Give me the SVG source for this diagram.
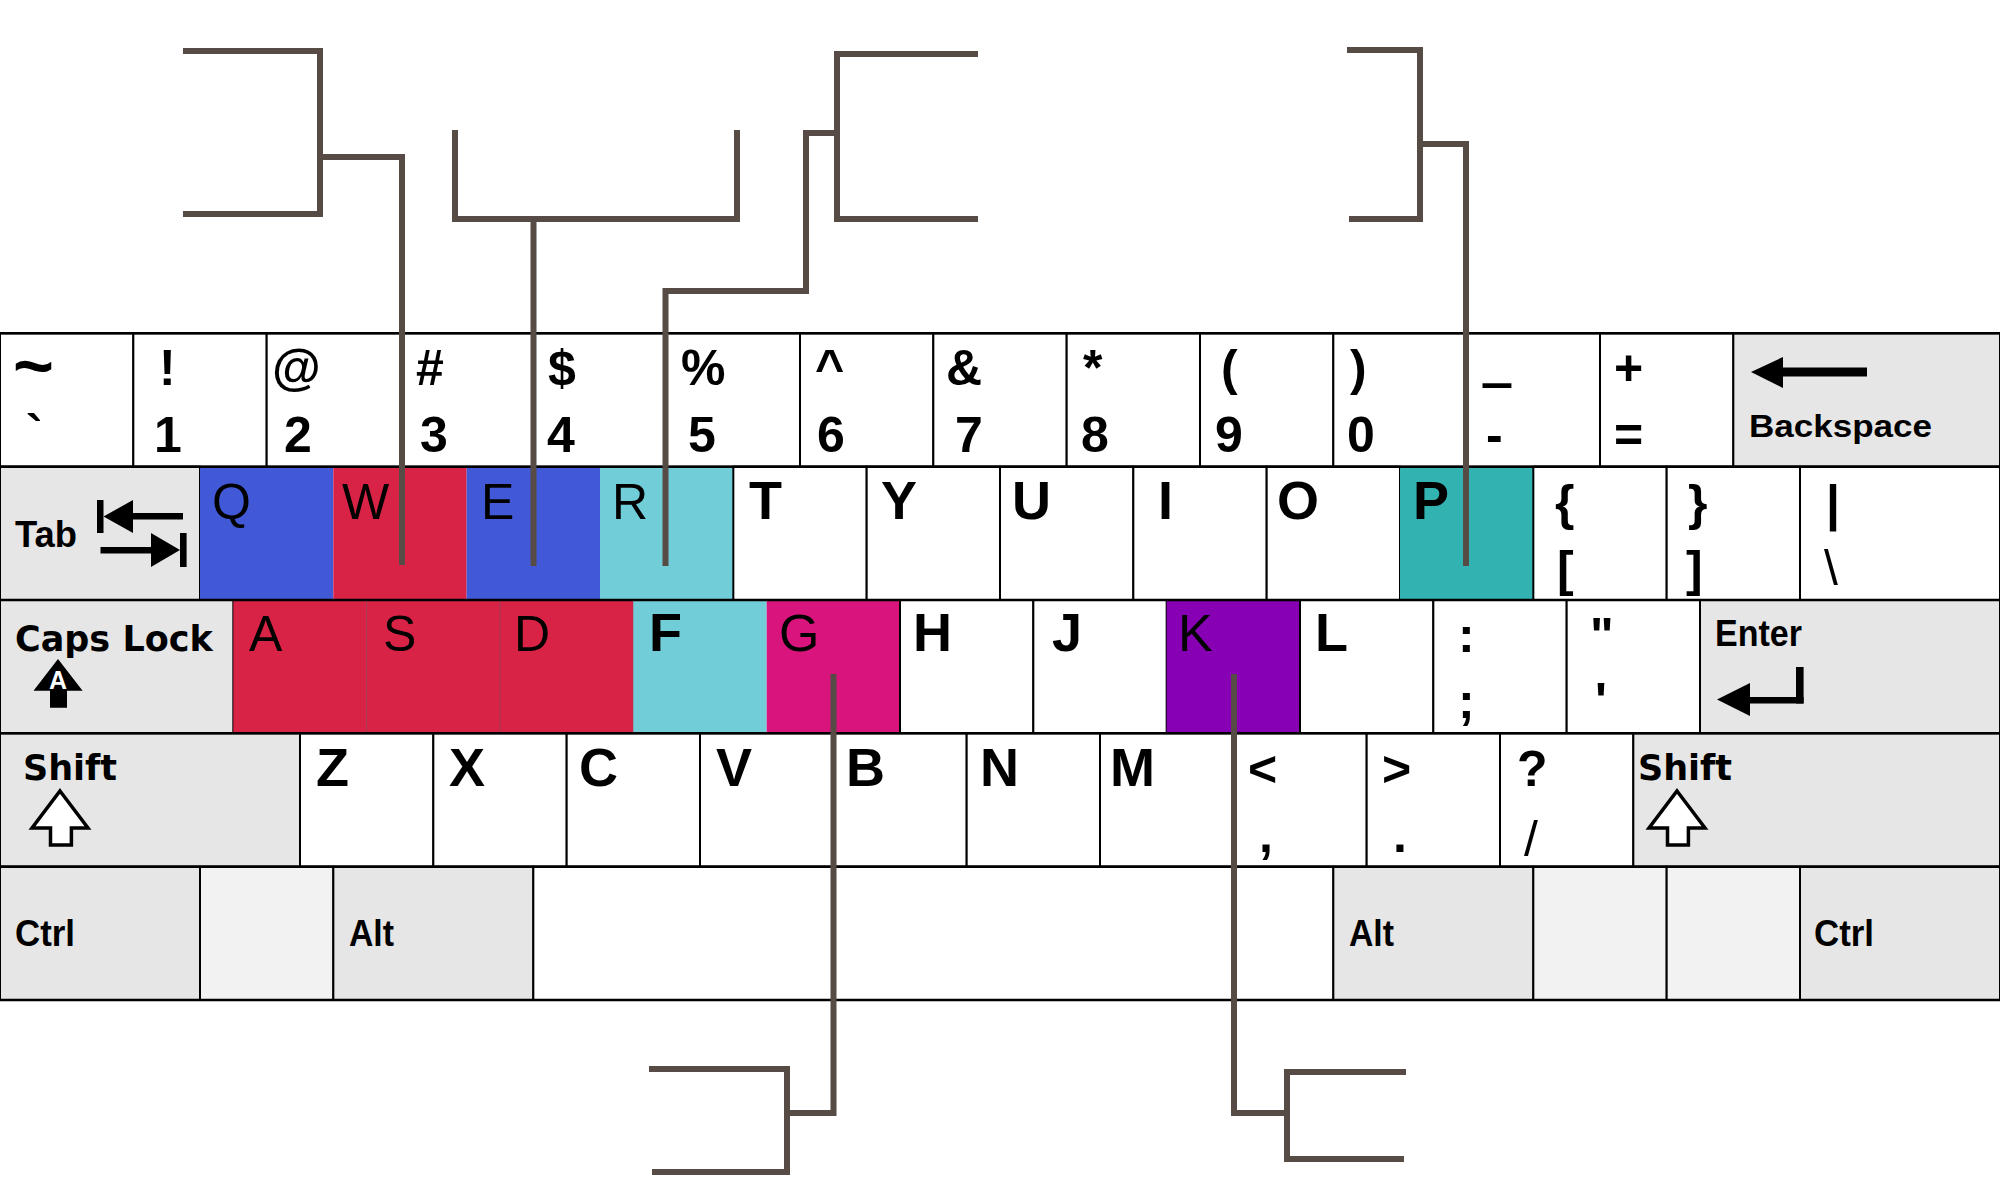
<svg xmlns="http://www.w3.org/2000/svg" width="2000" height="1200" viewBox="0 0 2000 1200">
<style>
.k{stroke:#000;stroke-width:2}
.w{fill:#fff}.g{fill:#e6e6e6}.l{fill:#f2f2f2}
.blue{fill:#4159d7}.red{fill:#d82347}.cyan{fill:#71ced9}.teal{fill:#32b3b2}.mag{fill:#d9157d}.pur{fill:#8700b3}
text{font-family:"Liberation Sans",Arial,sans-serif;font-weight:bold;fill:#000}
.s{font-size:50px}
.b{font-size:54px}
.r{font-size:50px;font-weight:normal}
.m{font-size:36px}
.d{font-family:"DejaVu Sans",sans-serif;font-weight:bold}
.cn{fill:none;stroke:#564b45;stroke-width:6;stroke-linejoin:miter}
</style>
<rect width="2000" height="1200" fill="#fff"/>
<g id="keyboard">
<!-- row 0 -->
<g id="key-tilde"><rect class="k w" x="0" y="333.33" width="133.33" height="133.33"/><text x="13" y="390" style="font-size:70px">~</text><text class="s" x="26" y="450">`</text></g>
<g id="key-1"><rect class="k w" x="133.33" y="333.33" width="133.33" height="133.33"/><text class="s" x="159" y="385">!</text><text class="s" x="154" y="452">1</text></g>
<g id="key-2"><rect class="k w" x="266.67" y="333.33" width="133.33" height="133.33"/><text class="s" x="272" y="385">@</text><text class="s" x="284" y="452">2</text></g>
<g id="key-3"><rect class="k w" x="400" y="333.33" width="133.33" height="133.33"/><text class="s" x="416" y="385">#</text><text class="s" x="420" y="452">3</text></g>
<g id="key-4"><rect class="k w" x="533.33" y="333.33" width="133.33" height="133.33"/><text class="s" x="548" y="385">$</text><text class="s" x="547" y="452">4</text></g>
<g id="key-5"><rect class="k w" x="666.67" y="333.33" width="133.33" height="133.33"/><text class="s" x="681" y="385">%</text><text class="s" x="688" y="452">5</text></g>
<g id="key-6"><rect class="k w" x="800" y="333.33" width="133.33" height="133.33"/><text class="s" x="815" y="385">^</text><text class="s" x="817" y="452">6</text></g>
<g id="key-7"><rect class="k w" x="933.33" y="333.33" width="133.33" height="133.33"/><text class="s" x="946" y="385">&amp;</text><text class="s" x="955" y="452">7</text></g>
<g id="key-8"><rect class="k w" x="1066.67" y="333.33" width="133.33" height="133.33"/><text class="s" x="1083" y="385">*</text><text class="s" x="1081" y="452">8</text></g>
<g id="key-9"><rect class="k w" x="1200" y="333.33" width="133.33" height="133.33"/><text class="s" x="1221" y="385">(</text><text class="s" x="1215" y="452">9</text></g>
<g id="key-0"><rect class="k w" x="1333.33" y="333.33" width="133.33" height="133.33"/><text class="s" x="1350" y="385">)</text><text class="s" x="1347" y="452">0</text></g>
<g id="key-minus"><rect class="k w" x="1466.67" y="333.33" width="133.33" height="133.33"/><text x="1483" y="373" style="font-size:125px" textLength="28" lengthAdjust="spacingAndGlyphs">_</text><text class="s" x="1486" y="452">-</text></g>
<g id="key-equal"><rect class="k w" x="1600" y="333.33" width="133.33" height="133.33"/><text class="s" x="1614" y="385">+</text><text class="s" x="1614" y="452">=</text></g>
<g id="key-backspace"><rect class="k g" x="1733.33" y="333.33" width="266.67" height="133.33"/><polygon points="1751,372 1783,357 1783,388"/><rect x="1782" y="367.5" width="85" height="9"/><text x="1749" y="437" style="font-size:31px" textLength="183" lengthAdjust="spacingAndGlyphs">Backspace</text></g>
<!-- row 1 -->
<g id="key-tab"><rect class="k g" x="0" y="466.67" width="200" height="133.33"/><text class="m" x="15" y="547" textLength="62" lengthAdjust="spacingAndGlyphs">Tab</text><rect x="97" y="500" width="6.5" height="33"/><polygon points="103.5,516.5 133,500 133,533"/><rect x="132" y="513" width="51" height="6.5"/><rect x="100.5" y="547" width="51" height="6.5"/><polygon points="180,550 151,533 151,567"/><rect x="180" y="533" width="6.6" height="34"/></g>
<g id="key-q"><rect class="blue" x="200" y="466.67" width="133.33" height="133.33"/><text class="r" x="212" y="519">Q</text></g>
<g id="key-w"><rect class="red" x="333.33" y="466.67" width="133.33" height="133.33"/><text class="r" x="342" y="519">W</text></g>
<g id="key-e"><rect class="blue" x="466.67" y="466.67" width="133.33" height="133.33"/><text class="r" x="481" y="519">E</text></g>
<g id="key-r"><rect class="cyan" x="600" y="466.67" width="133.33" height="133.33"/><text class="r" x="612" y="519">R</text></g>
<g id="key-t"><rect class="k w" x="733.33" y="466.67" width="133.33" height="133.33"/><text class="b" x="749" y="519">T</text></g>
<g id="key-y"><rect class="k w" x="866.67" y="466.67" width="133.33" height="133.33"/><text class="b" x="881" y="519">Y</text></g>
<g id="key-u"><rect class="k w" x="1000" y="466.67" width="133.33" height="133.33"/><text class="b" x="1012" y="519">U</text></g>
<g id="key-i"><rect class="k w" x="1133.33" y="466.67" width="133.33" height="133.33"/><text class="b" x="1158" y="519">I</text></g>
<g id="key-o"><rect class="k w" x="1266.67" y="466.67" width="133.33" height="133.33"/><text class="b" x="1277" y="519">O</text></g>
<g id="key-p"><rect class="teal" x="1400" y="466.67" width="133.33" height="133.33"/><text class="b" x="1413" y="519">P</text></g>
<g id="key-lbracket"><rect class="k w" x="1533.33" y="466.67" width="133.33" height="133.33"/><text class="s" x="1555" y="520">{</text><text class="s" x="1557" y="586">[</text></g>
<g id="key-rbracket"><rect class="k w" x="1666.67" y="466.67" width="133.33" height="133.33"/><text class="s" x="1688" y="520">}</text><text class="s" x="1686" y="586">]</text></g>
<g id="key-backslash"><rect class="k w" x="1800" y="466.67" width="200" height="133.33"/><text class="s" x="1826" y="520">|</text><text class="r" x="1824" y="585">\</text></g>
<!-- row 2 -->
<g id="key-caps"><rect class="k g" x="0" y="600" width="233.33" height="133.33"/><text class="d" x="15" y="651" style="font-size:35px">Caps Lock</text><polygon points="58,659 82.6,690.7 67,690.7 67,707.7 50,707.7 50,690.7 33.5,690.7"/><text x="58" y="689" text-anchor="middle" style="font-size:25px;fill:#fff">A</text></g>
<g id="key-a"><rect class="red" x="233.33" y="600" width="133.33" height="133.33"/><text class="r" x="249" y="651">A</text></g>
<g id="key-s"><rect class="red" x="366.67" y="600" width="133.33" height="133.33" stroke="#a8394f" stroke-width="1"/><text class="r" x="383" y="651">S</text></g>
<g id="key-d"><rect class="red" x="500" y="600" width="133.33" height="133.33" stroke="#a8394f" stroke-width="1"/><text class="r" x="514" y="651">D</text></g>
<g id="key-f"><rect class="cyan" x="633.33" y="600" width="133.33" height="133.33"/><text class="b" x="649" y="651">F</text></g>
<g id="key-g"><rect class="mag" x="766.67" y="600" width="133.33" height="133.33"/><text class="r" x="779" y="651" style="font-size:52px">G</text></g>
<g id="key-h"><rect class="k w" x="900" y="600" width="133.33" height="133.33"/><text class="b" x="913" y="651">H</text></g>
<g id="key-j"><rect class="k w" x="1033.33" y="600" width="133.33" height="133.33"/><text class="b" x="1052" y="651">J</text></g>
<g id="key-k"><rect class="pur" x="1166.67" y="600" width="133.33" height="133.33"/><text class="r" x="1178" y="651" style="font-size:52px">K</text></g>
<g id="key-l"><rect class="k w" x="1300" y="600" width="133.33" height="133.33"/><text class="b" x="1315" y="651">L</text></g>
<g id="key-semicolon"><rect class="k w" x="1433.33" y="600" width="133.33" height="133.33"/><text class="s" x="1458" y="652">:</text><text class="s" x="1458" y="718">;</text></g>
<g id="key-quote"><rect class="k w" x="1566.67" y="600" width="133.33" height="133.33"/><text class="s" x="1590" y="653">"</text><text class="s" x="1595" y="718">'</text></g>
<g id="key-enter"><rect class="k g" x="1700" y="600" width="300" height="133.33"/><text class="m" x="1715" y="646" textLength="87" lengthAdjust="spacingAndGlyphs">Enter</text><rect x="1796" y="667" width="7.6" height="36.5"/><rect x="1749" y="697" width="54.6" height="6.5"/><polygon points="1717,699.5 1750,683 1750,716"/></g>
<!-- row 3 -->
<g id="key-lshift"><rect class="k g" x="0" y="733.33" width="300" height="133.33"/><text class="d" x="23" y="780" style="font-size:35px">Shift</text><polygon points="60,791 88,828 71.4,828 71.4,845 50.5,845 50.5,828 32,828" fill="#fff" stroke="#000" stroke-width="3.5"/></g>
<g id="key-z"><rect class="k w" x="300" y="733.33" width="133.33" height="133.33"/><text class="b" x="316" y="786">Z</text></g>
<g id="key-x"><rect class="k w" x="433.33" y="733.33" width="133.33" height="133.33"/><text class="b" x="449" y="786">X</text></g>
<g id="key-c"><rect class="k w" x="566.67" y="733.33" width="133.33" height="133.33"/><text class="b" x="579" y="786">C</text></g>
<g id="key-v"><rect class="k w" x="700" y="733.33" width="133.33" height="133.33"/><text class="b" x="716" y="786">V</text></g>
<g id="key-b"><rect class="k w" x="833.33" y="733.33" width="133.33" height="133.33"/><text class="b" x="846" y="786">B</text></g>
<g id="key-n"><rect class="k w" x="966.67" y="733.33" width="133.33" height="133.33"/><text class="b" x="980" y="786">N</text></g>
<g id="key-m"><rect class="k w" x="1100" y="733.33" width="133.33" height="133.33"/><text class="b" x="1110" y="786">M</text></g>
<g id="key-comma"><rect class="k w" x="1233.33" y="733.33" width="133.33" height="133.33"/><text class="s" x="1248" y="786">&lt;</text><text class="s" x="1259" y="852">,</text></g>
<g id="key-period"><rect class="k w" x="1366.67" y="733.33" width="133.33" height="133.33"/><text class="s" x="1382" y="786">&gt;</text><text class="s" x="1393" y="852">.</text></g>
<g id="key-slash"><rect class="k w" x="1500" y="733.33" width="133.33" height="133.33"/><text class="s" x="1517" y="786">?</text><text class="r" x="1524" y="856">/</text></g>
<g id="key-rshift"><rect class="k g" x="1633.33" y="733.33" width="366.67" height="133.33"/><text class="d" x="1638" y="780" style="font-size:35px">Shift</text><polygon points="1677,791 1705,828 1688.4,828 1688.4,845 1667.5,845 1667.5,828 1649,828" fill="#fff" stroke="#000" stroke-width="3.5"/></g>
<!-- row 4 -->
<g id="key-lctrl"><rect class="k g" x="0" y="866.67" width="200" height="133.33"/><text class="m" x="15" y="946" textLength="60" lengthAdjust="spacingAndGlyphs">Ctrl</text></g>
<g id="key-lblank"><rect class="k l" x="200" y="866.67" width="133.33" height="133.33"/></g>
<g id="key-lalt"><rect class="k g" x="333.33" y="866.67" width="200" height="133.33"/><text class="m" x="349" y="946" textLength="45" lengthAdjust="spacingAndGlyphs">Alt</text></g>
<g id="key-space"><rect class="k w" x="533.33" y="866.67" width="800" height="133.33"/></g>
<g id="key-ralt"><rect class="k g" x="1333.33" y="866.67" width="200" height="133.33"/><text class="m" x="1349" y="946" textLength="45" lengthAdjust="spacingAndGlyphs">Alt</text></g>
<g id="key-rblank1"><rect class="k l" x="1533.33" y="866.67" width="133.33" height="133.33"/></g>
<g id="key-rblank2"><rect class="k l" x="1666.67" y="866.67" width="133.33" height="133.33"/></g>
<g id="key-rctrl"><rect class="k g" x="1800" y="866.67" width="200" height="133.33"/><text class="m" x="1814" y="946" textLength="60" lengthAdjust="spacingAndGlyphs">Ctrl</text></g>
<!-- row separator lines -->
<g stroke="#000" stroke-width="2.5">
<line x1="0" y1="333.33" x2="2000" y2="333.33"/>
<line x1="0" y1="466.67" x2="2000" y2="466.67"/>
<line x1="0" y1="600" x2="2000" y2="600"/>
<line x1="0" y1="733.33" x2="2000" y2="733.33"/>
<line x1="0" y1="866.67" x2="2000" y2="866.67"/>
<line x1="0" y1="1000" x2="2000" y2="1000"/>
</g>
</g>
<g id="bracket-top-left"><path class="cn" d="M183,51 H320 V214 H183"/></g>
<g id="bracket-top-middle"><path class="cn" d="M455,130 V219 H737 V130"/></g>
<g id="bracket-top-center"><path class="cn" d="M978,54 H837 V219 H978"/></g>
<g id="bracket-top-right"><path class="cn" d="M1347,50 H1420 V219 H1349"/></g>
<g id="bracket-bottom-left"><path class="cn" d="M649,1069 H787 V1172 H652"/></g>
<g id="bracket-bottom-right"><path class="cn" d="M1406,1072 H1287 V1159 H1404"/></g>
<g id="connectors">
<path class="cn" d="M402,565 V157 H320"/>
<path class="cn" d="M533.5,219 V566"/>
<path class="cn" d="M837,133 H806 V291 H665.5 V566"/>
<path class="cn" d="M1420,144 H1466 V566"/>
<path class="cn" d="M833.5,674 V1113 H787"/>
<path class="cn" d="M1234,674 V1113 H1287"/>
</g>
</svg>
